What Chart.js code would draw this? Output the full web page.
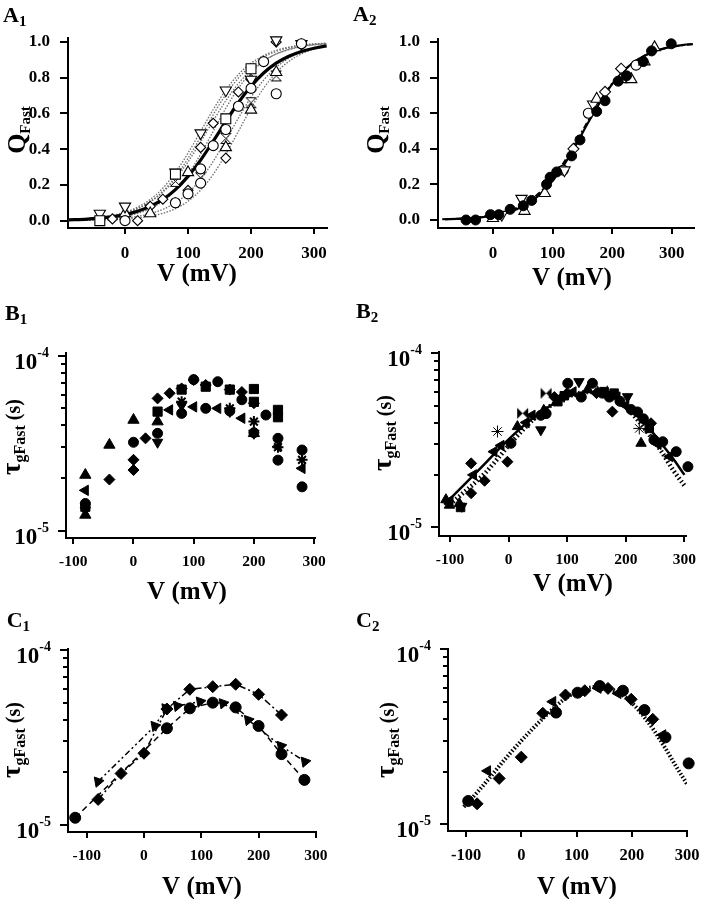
<!DOCTYPE html>
<html>
<head>
<meta charset="utf-8">
<title>QFast and tau gFast vs V</title>
<script src="https://cdn.jsdelivr.net/npm/chart.js@4.4.1/dist/chart.umd.min.js"></script>
<style>
  html, body { margin: 0; padding: 0; background: #fff; }
  body { position: relative; width: 702px; height: 899px; overflow: hidden; }
  canvas { position: absolute; }
</style>
</head>
<body>
<canvas id="cA1" width="351" height="300" style="left:0;top:0"></canvas>
<canvas id="cA2" width="351" height="300" style="left:351px;top:0"></canvas>
<canvas id="cB1" width="351" height="320" style="left:0;top:290px"></canvas>
<canvas id="cB2" width="351" height="320" style="left:351px;top:290px"></canvas>
<canvas id="cC1" width="351" height="299" style="left:0;top:600px"></canvas>
<canvas id="cC2" width="351" height="299" style="left:351px;top:600px"></canvas>
<script>
const FONT = '"Liberation Serif", "Times New Roman", serif';

// ---------- tick values ----------
const qTicks = [0, 0.2, 0.4, 0.6, 0.8, 1.0];
const vTicksA = [0, 100, 200, 300];
const vTicksBC = [-100, 0, 100, 200, 300];
const tauTicks = [1e-5, 2e-5, 3e-5, 4e-5, 5e-5, 6e-5, 7e-5, 8e-5, 9e-5, 1e-4];

// ---------- A1 ----------
const a1FitV = [-90, -60, -30, 0, 20, 40, 60, 80, 100, 120, 140, 160, 180, 200, 220, 240, 260, 280, 300, 320];
const a1Mean = [0.005, 0.009, 0.018, 0.034, 0.053, 0.080, 0.119, 0.174, 0.248, 0.339, 0.445, 0.555, 0.661, 0.752, 0.826, 0.881, 0.920, 0.947, 0.965, 0.978];
const a1Fit1 = [0.005, 0.011, 0.023, 0.047, 0.076, 0.119, 0.182, 0.269, 0.378, 0.500, 0.622, 0.731, 0.818, 0.881, 0.924, 0.953, 0.971, 0.982, 0.989, 0.993];
const a1Fit2 = [0.005, 0.011, 0.022, 0.043, 0.068, 0.105, 0.159, 0.233, 0.329, 0.441, 0.559, 0.671, 0.767, 0.841, 0.895, 0.932, 0.957, 0.973, 0.983, 0.989];
const a1Fit3 = [0.002, 0.005, 0.011, 0.024, 0.041, 0.067, 0.109, 0.171, 0.259, 0.372, 0.500, 0.629, 0.741, 0.829, 0.891, 0.933, 0.959, 0.976, 0.985, 0.991];
const a1Fit4 = [0.002, 0.003, 0.007, 0.015, 0.024, 0.039, 0.063, 0.100, 0.155, 0.231, 0.332, 0.450, 0.574, 0.690, 0.786, 0.858, 0.909, 0.943, 0.964, 0.978];
const a1Fit5 = [0.001, 0.002, 0.004, 0.009, 0.015, 0.025, 0.041, 0.067, 0.109, 0.171, 0.259, 0.372, 0.500, 0.629, 0.741, 0.829, 0.891, 0.933, 0.959, 0.976];
const a1Fit6 = [0.005, 0.010, 0.020, 0.042, 0.068, 0.107, 0.165, 0.245, 0.349, 0.469, 0.593, 0.706, 0.798, 0.867, 0.915, 0.947, 0.967, 0.980, 0.988, 0.992];

const a1CircV = [0, 80, 100, 120, 120, 140, 160, 180, 200, 220, 240, 280];
const a1CircQ = [0.00, 0.10, 0.15, 0.29, 0.21, 0.42, 0.51, 0.64, 0.74, 0.89, 0.71, 0.99];
const a1SqV = [-40, 80, 160, 200];
const a1SqQ = [0.00, 0.26, 0.57, 0.85];
const a1DownV = [-40, 0, 80, 120, 160, 200, 240, 280];
const a1DownQ = [0.04, 0.08, 0.27, 0.49, 0.73, 0.79, 1.01, 0.99];
const a1UpV = [0, 40, 100, 160, 200, 240];
const a1UpQ = [0.04, 0.04, 0.27, 0.41, 0.62, 0.83];
const a1DiaV = [-20, 20, 40, 60, 80, 100, 120, 140, 160, 180, 200, 240, 280];
const a1DiaQ = [0.01, 0.00, 0.08, 0.12, 0.10, 0.17, 0.41, 0.545, 0.35, 0.72, 0.79, 1.00, 0.99];
const a1HourV = [40, 80, 120, 160, 200, 240];
const a1HourQ = [0.06, 0.22, 0.24, 0.46, 0.66, 0.81];

// ---------- A2 ----------
const a2FitV = [-80, -60, -40, -20, 0, 20, 40, 60, 80, 100, 120, 140, 160, 180, 200, 220, 240, 260, 280, 300, 320, 335];
const a2Fit = [0.004, 0.006, 0.009, 0.015, 0.024, 0.038, 0.061, 0.096, 0.147, 0.220, 0.314, 0.427, 0.549, 0.664, 0.763, 0.840, 0.895, 0.933, 0.958, 0.974, 0.984, 0.989];
const a2DashV = [-85, -60, -40, -20, 0, 20, 40, 60, 80, 100, 120, 140, 160, 180, 200, 220, 240, 260, 280, 300, 320, 335];
const a2Dash = [0.004, 0.007, 0.011, 0.017, 0.027, 0.043, 0.068, 0.105, 0.159, 0.233, 0.329, 0.441, 0.559, 0.671, 0.767, 0.841, 0.895, 0.932, 0.957, 0.973, 0.983, 0.988];
const a2FillV = [-45, -29, -4, 10, 29, 51, 65, 90, 96, 107, 132, 146, 174, 188, 210, 224, 252, 266, 299];
const a2FillQ = [0.00, 0.00, 0.03, 0.03, 0.06, 0.08, 0.11, 0.20, 0.24, 0.27, 0.36, 0.45, 0.61, 0.67, 0.78, 0.81, 0.89, 0.95, 0.99];
const a2UpV = [0, 53, 87, 174, 215, 232, 254, 271];
const a2UpQ = [0.01, 0.05, 0.15, 0.68, 0.79, 0.79, 0.89, 0.97];
const a2DownV = [15, 48, 120, 168];
const a2DownQ = [0.03, 0.12, 0.28, 0.65];
const a2DiaV = [135, 188, 215];
const a2DiaQ = [0.40, 0.72, 0.85];
const a2CircV = [118, 160, 240];
const a2CircQ = [0.28, 0.60, 0.87];

// ---------- B1 ----------
const b1UpV = [-80, -80, -40, 0, 40, 200];
const b1UpT = [2.08e-5, 1.23e-5, 3.09e-5, 4.29e-5, 4.2e-5, 3.6e-5];
const b1DiaV = [-40, 0, 0, 20, 40, 60, 80, 100, 120, 160, 180, 200];
const b1DiaT = [1.96e-5, 2.22e-5, 2.54e-5, 3.37e-5, 5.7e-5, 6.1e-5, 6.5e-5, 7.26e-5, 6.8e-5, 6.4e-5, 6.2e-5, 5.35e-5];
const b1CircV = [-80, 0, 40, 80, 100, 120, 140, 160, 180, 200, 220, 240, 240, 280, 280];
const b1CircT = [1.43e-5, 3.2e-5, 3.6e-5, 4.68e-5, 7.3e-5, 5.0e-5, 7.1e-5, 4.83e-5, 5.6e-5, 3.63e-5, 4.58e-5, 2.53e-5, 3.37e-5, 2.89e-5, 1.78e-5];
const b1SqV = [-80, 40, 80, 120, 160, 200, 200, 240, 240];
const b1SqT = [1.37e-5, 4.79e-5, 6.4e-5, 6.65e-5, 6.4e-5, 6.45e-5, 5.45e-5, 4.9e-5, 4.45e-5];
const b1LeftV = [-80, 60, 100, 140, 180, 240, 280];
const b1LeftT = [1.7e-5, 4.9e-5, 5.1e-5, 5.0e-5, 4.39e-5, 3.02e-5, 2.27e-5];
const b1DownV = [-80, 40, 80, 160, 200];
const b1DownT = [1.31e-5, 3.2e-5, 5.2e-5, 4.8e-5, 3.6e-5];
const b1StarV = [80, 160, 200, 240, 280];
const b1StarT = [5.46e-5, 5.0e-5, 4.2e-5, 3.0e-5, 2.54e-5];

// ---------- B2 ----------
const b2SolidV = [-110, -80, -40, 0, 40, 80, 100, 120, 140, 160, 180, 200, 220, 240, 260, 280, 300];
const b2SolidT = [1.35e-5, 1.7e-5, 2.33e-5, 3.2e-5, 4.2e-5, 5.2e-5, 5.6e-5, 5.9e-5, 6.0e-5, 5.9e-5, 5.55e-5, 5.0e-5, 4.35e-5, 3.7e-5, 3.05e-5, 2.5e-5, 2.0e-5];
const b2DotV = [-100, -80, -60, -40, -20, 0, 20, 40, 60, 80, 100, 120, 140, 160, 180, 200, 220, 240, 260, 280, 302];
const b2DotT = [1.35e-5, 1.55e-5, 1.77e-5, 2.05e-5, 2.45e-5, 2.95e-5, 3.5e-5, 4.1e-5, 4.7e-5, 5.2e-5, 5.6e-5, 5.9e-5, 6.0e-5, 5.9e-5, 5.5e-5, 4.9e-5, 4.15e-5, 3.4e-5, 2.75e-5, 2.15e-5, 1.7e-5];
const b2CircV = [4, 55, 64, 101, 124, 143, 160, 172, 190, 209, 220, 230, 248, 263, 286, 306];
const b2CircT = [3.04e-5, 4.4e-5, 4.5e-5, 6.72e-5, 5.6e-5, 6.72e-5, 5.9e-5, 5.6e-5, 5.3e-5, 4.75e-5, 4.6e-5, 4.2e-5, 3.18e-5, 3.1e-5, 2.72e-5, 2.23e-5];
const b2DiaV = [-64, -64, -41, -2, 78, 100, 150, 177, 243];
const b2DiaT = [2.33e-5, 1.57e-5, 1.85e-5, 2.38e-5, 5.6e-5, 5.9e-5, 5.9e-5, 4.62e-5, 3.96e-5];
const b2UpV = [-107, -101, -84, 15, 60, 135, 226];
const b2UpT = [1.44e-5, 1.34e-5, 1.37e-5, 3.79e-5, 4.7e-5, 6.2e-5, 3.04e-5];
const b2DownV = [-80, 55, 120, 170, 203];
const b2DownT = [1.32e-5, 3.63e-5, 6.87e-5, 5.8e-5, 5.63e-5];
const b2LeftV = [-100, -60, -25, -13, 30, 40, 90, 110, 185, 200, 255, 275];
const b2LeftT = [1.42e-5, 2.0e-5, 2.72e-5, 2.95e-5, 4.0e-5, 4.4e-5, 5.6e-5, 6.0e-5, 5.6e-5, 5.0e-5, 3.0e-5, 2.55e-5];
const b2SqV = [-82, 84, 95, 163, 180, 240];
const b2SqT = [1.3e-5, 5.27e-5, 5.7e-5, 6.02e-5, 5.9e-5, 3.7e-5];
const b2BowV = [24, 64, 160];
const b2BowT = [4.52e-5, 5.89e-5, 6.1e-5];
const b2StarV = [-19, 223];
const b2StarT = [3.55e-5, 3.7e-5];

// ---------- C1 ----------
const c1CircV = [-120, 40, 80, 120, 160, 200, 240, 280];
const c1CircT = [1.1e-5, 3.57e-5, 4.64e-5, 5.0e-5, 4.7e-5, 3.68e-5, 2.54e-5, 1.81e-5];
const c1DiaV = [-80, -40, 0, 40, 80, 120, 160, 200, 240];
const c1DiaT = [1.4e-5, 1.97e-5, 2.57e-5, 4.6e-5, 5.96e-5, 6.17e-5, 6.37e-5, 5.58e-5, 4.25e-5];
const c1TriV = [-80, 19, 38, 58, 98, 138, 182, 239, 281];
const c1TriT = [1.77e-5, 3.68e-5, 4.64e-5, 4.79e-5, 5.07e-5, 4.96e-5, 3.98e-5, 2.83e-5, 2.3e-5];

// ---------- C2 ----------
const c2FitV = [-104, -80, -60, -40, -20, 0, 20, 40, 60, 80, 100, 120, 140, 160, 180, 200, 220, 240, 260, 280, 300];
const c2FitT = [1.26e-5, 1.52e-5, 1.8e-5, 2.15e-5, 2.55e-5, 3.0e-5, 3.5e-5, 4.05e-5, 4.65e-5, 5.25e-5, 5.7e-5, 6.0e-5, 6.1e-5, 5.95e-5, 5.55e-5, 4.95e-5, 4.2e-5, 3.45e-5, 2.75e-5, 2.15e-5, 1.7e-5];
const c2CircV = [-96, 63, 102, 142, 184, 223, 261, 303];
const c2CircT = [1.36e-5, 4.35e-5, 5.65e-5, 6.17e-5, 5.8e-5, 4.5e-5, 3.14e-5, 2.23e-5];
const c2DiaV = [-80, -40, 0, 39, 80, 115, 157, 199, 238];
const c2DiaT = [1.31e-5, 1.83e-5, 2.42e-5, 4.31e-5, 5.48e-5, 5.8e-5, 5.98e-5, 5.18e-5, 3.98e-5];
const c2TriV = [-61, 57, 139, 175, 256];
const c2TriT = [2.02e-5, 5.02e-5, 6.0e-5, 5.6e-5, 3.24e-5];

// ---------- helpers ----------
const pts = (xs, ys) => xs.map((x, i) => ({ x: x, y: ys[i] }));

function makeMarker(size, draw) {
  const c = document.createElement('canvas');
  c.width = size; c.height = size;
  draw(c.getContext('2d'), size);
  return c;
}
const hourglass = makeMarker(13, (g, s) => {
  g.beginPath();
  g.moveTo(1.5, 1.5); g.lineTo(s - 1.5, 1.5); g.lineTo(1.5, s - 1.5); g.lineTo(s - 1.5, s - 1.5);
  g.closePath();
  g.fillStyle = '#fff'; g.fill();
  g.strokeStyle = '#000'; g.lineWidth = 1; g.stroke();
});
const bowtie = makeMarker(13, (g, s) => {
  g.beginPath();
  g.moveTo(1, 1); g.lineTo(1, s - 1); g.lineTo(s - 1, 1); g.lineTo(s - 1, s - 1);
  g.closePath();
  g.fillStyle = '#000'; g.fill();
});

function marks(xs, ys, style, o) {
  return Object.assign({
    data: pts(xs, ys), showLine: false, pointStyle: style, pointRadius: 5,
    pointBackgroundColor: '#000', pointBorderColor: '#000', pointBorderWidth: 1,
    clip: false, order: 1
  }, o || {});
}
function openMarks(xs, ys, style, o) {
  return marks(xs, ys, style, Object.assign({ pointBackgroundColor: '#fff', pointBorderWidth: 1.1 }, o || {}));
}
function curve(xs, ys, o) {
  return Object.assign({
    data: pts(xs, ys), showLine: true, pointRadius: 0, borderColor: '#000', borderWidth: 2,
    cubicInterpolationMode: 'monotone', fill: false, order: 5
  }, o || {});
}
const grayFit = ys => curve(a1FitV, ys, { borderColor: '#6e6e6e', borderWidth: 1.3, borderDash: [1.5, 1.5], order: 6 });

function richText(ctx, x, y, parts, align, rot) {
  ctx.save();
  ctx.translate(x, y);
  if (rot) ctx.rotate(rot);
  let w = 0;
  parts.forEach(p => { ctx.font = 'bold ' + p.s + 'px ' + FONT; p.w = ctx.measureText(p.t).width; w += p.w; });
  let cx = align === 'center' ? -w / 2 : 0;
  ctx.textAlign = 'left';
  ctx.textBaseline = 'alphabetic';
  parts.forEach(p => { ctx.font = 'bold ' + p.s + 'px ' + FONT; ctx.fillText(p.t, cx, p.dy || 0); cx += p.w; });
  ctx.restore();
}

const qTitle = [{ t: 'Q', s: 26 }, { t: 'Fast', s: 15, dy: 5 }];
const tauTitle = [{ t: 'τ', s: 27 }, { t: 'gFast', s: 16, dy: 5 }, { t: ' (s)', s: 20 }];
const vTitle = [{ t: 'V (mV)', s: 25 }];

// ticks, labels, titles
const axisDeco = {
  id: 'axisDeco',
  afterDraw(chart, args, o) {
    const ctx = chart.ctx, xs = chart.scales.x, ys = chart.scales.y;
    ctx.save();
    ctx.strokeStyle = '#000';
    ctx.fillStyle = '#000';
    ctx.lineWidth = 2;
    ctx.beginPath();
    xs.ticks.forEach(t => {
      const p = Math.round(xs.getPixelForValue(t.value));
      ctx.moveTo(p, xs.top); ctx.lineTo(p, xs.top + 6);
    });
    ys.ticks.forEach(t => {
      const p = Math.round(ys.getPixelForValue(t.value));
      const lg = Math.log10(t.value);
      const major = ys.type !== 'logarithmic' || Math.abs(lg - Math.round(lg)) < 1e-6;
      ctx.moveTo(ys.right - (major ? 8 : 5), p); ctx.lineTo(ys.right, p);
    });
    ctx.stroke();

    if (ys.type === 'logarithmic') {
      ys.ticks.forEach(t => {
        const lg = Math.log10(t.value), e = Math.round(lg);
        if (Math.abs(lg - e) > 1e-6) return;
        const p = ys.getPixelForValue(t.value);
        const right = ys.right - 17;
        ctx.textAlign = 'right';
        ctx.textBaseline = 'alphabetic';
        ctx.font = 'bold 14px ' + FONT;
        const ew = ctx.measureText(String(e)).width;
        ctx.fillText(String(e), right, p + 1);
        ctx.font = 'bold 23px ' + FONT;
        ctx.fillText('10', right - ew, p + 13);
      });
    }
    richText(ctx, o.label[0], o.label[1], [{ t: o.label[2], s: 22 }, { t: o.label[3], s: 15, dy: 4 }], 'left');
    richText(ctx, o.xTitle[0], o.xTitle[1], vTitle, 'center');
    richText(ctx, o.yTitle[0], o.yTitle[1], o.yTitle[2], 'center', -Math.PI / 2);
    ctx.restore();
  }
};

function buildChart(id, p) {
  const cv = document.getElementById(id);
  const W = cv.width, H = cv.height;
  const isLog = p.yType === 'logarithmic';
  return new Chart(cv, {
    type: 'scatter',
    data: { datasets: p.datasets },
    options: {
      responsive: false,
      animation: false,
      devicePixelRatio: 1,
      events: [],
      layout: { padding: { left: 0, top: p.area[1], right: W - p.area[2], bottom: 0 } },
      plugins: { legend: { display: false }, tooltip: { enabled: false }, axisDeco: p.deco },
      scales: {
        x: {
          type: 'linear', min: p.x[0], max: p.x[1],
          afterBuildTicks: s => { s.ticks = p.xTicks.map(v => ({ value: v })); },
          afterFit: s => { s.height = H - p.area[3]; s.paddingLeft = 0; s.paddingRight = 0; },
          grid: { display: false },
          border: { display: true, color: '#000', width: 2 },
          ticks: {
            color: '#000', padding: 7, autoSkip: false, maxRotation: 0,
            font: { family: FONT, weight: 'bold', size: p.tickSize },
            callback: v => String(v)
          }
        },
        y: {
          type: p.yType, min: p.y[0], max: p.y[1],
          afterBuildTicks: s => { s.ticks = p.yTicks.map(v => ({ value: v })); },
          afterFit: s => { s.width = p.area[0]; s.paddingTop = 0; s.paddingBottom = 0; },
          grid: { display: false },
          border: { display: true, color: '#000', width: 2 },
          ticks: {
            color: '#000', padding: 10, autoSkip: false,
            font: { family: FONT, weight: 'bold', size: p.tickSize },
            callback: v => isLog ? '' : Number(v).toFixed(1)
          }
        }
      }
    },
    plugins: [axisDeco]
  });
}

// ---------- panels ----------
buildChart('cA1', {
  area: [68, 38, 327, 228], x: [-90.5, 320.6], y: [-0.041, 1.022], yType: 'linear',
  xTicks: vTicksA, yTicks: qTicks, tickSize: 17,
  deco: { label: [3, 21.7, 'A', '1'], xTitle: [197, 281], yTitle: [25, 130, qTitle] },
  datasets: [
    openMarks(a1CircV, a1CircQ, 'circle', { pointRadius: 5 }),
    openMarks(a1SqV, a1SqQ, 'rect', { pointRadius: 7 }),
    openMarks(a1DownV, a1DownQ, 'triangle', { pointRadius: 6.5, pointRotation: 180 }),
    openMarks(a1UpV, a1UpQ, 'triangle', { pointRadius: 6.5 }),
    openMarks(a1DiaV, a1DiaQ, 'rectRot', { pointRadius: 5 }),
    openMarks(a1HourV, a1HourQ, hourglass),
    curve(a1FitV, a1Mean, { borderWidth: 3.2, order: 4 }),
    grayFit(a1Fit1), grayFit(a1Fit2), grayFit(a1Fit3), grayFit(a1Fit4), grayFit(a1Fit5), grayFit(a1Fit6)
  ]
});

buildChart('cA2', {
  area: [87, 39, 345, 228], x: [-92, 337.8], y: [-0.045, 1.017], yType: 'linear',
  xTicks: vTicksA, yTicks: qTicks, tickSize: 17,
  deco: { label: [2, 20.7, 'A', '2'], xTitle: [221, 285], yTitle: [33, 130, qTitle] },
  datasets: [
    marks(a2FillV, a2FillQ, 'circle', { pointRadius: 5 }),
    openMarks(a2UpV, a2UpQ, 'triangle', { pointRadius: 6.5 }),
    openMarks(a2DownV, a2DownQ, 'triangle', { pointRadius: 6.5, pointRotation: 180 }),
    openMarks(a2DiaV, a2DiaQ, 'rectRot', { pointRadius: 5.5 }),
    openMarks(a2CircV, a2CircQ, 'circle', { pointRadius: 5 }),
    curve(a2FitV, a2Fit, { borderWidth: 2.2 }),
    curve(a2DashV, a2Dash, { borderWidth: 2, borderDash: [6, 3, 2, 3] })
  ]
});

buildChart('cB1', {
  area: [66, 63, 315, 248], x: [-112.1, 301.5], y: [9.08e-6, 1.036e-4], yType: 'logarithmic',
  xTicks: vTicksBC, yTicks: tauTicks, tickSize: 15.5,
  deco: { label: [5, 30, 'B', '1'], xTitle: [187, 309], yTitle: [20, 147, tauTitle] },
  datasets: [
    marks(b1UpV, b1UpT, 'triangle', { pointRadius: 6.5 }),
    marks(b1DiaV, b1DiaT, 'rectRot', { pointRadius: 5.5 }),
    marks(b1CircV, b1CircT, 'circle', { pointRadius: 5 }),
    marks(b1SqV, b1SqT, 'rect', { pointRadius: 6.5 }),
    marks(b1LeftV, b1LeftT, 'triangle', { pointRadius: 6, pointRotation: -90 }),
    marks(b1DownV, b1DownT, 'triangle', { pointRadius: 6, pointRotation: 180 }),
    marks(b1StarV, b1StarT, 'star', { pointRadius: 5.5, pointBorderWidth: 2 })
  ]
});

buildChart('cB2', {
  area: [88, 62, 335, 246], x: [-118.8, 302.7], y: [8.91e-6, 1.017e-4], yType: 'logarithmic',
  xTicks: vTicksBC, yTicks: tauTicks, tickSize: 15.5,
  deco: { label: [5, 28, 'B', '2'], xTitle: [222, 301], yTitle: [40, 143, tauTitle] },
  datasets: [
    marks(b2CircV, b2CircT, 'circle', { pointRadius: 5 }),
    marks(b2DiaV, b2DiaT, 'rectRot', { pointRadius: 5.5 }),
    marks(b2UpV, b2UpT, 'triangle', { pointRadius: 6 }),
    marks(b2DownV, b2DownT, 'triangle', { pointRadius: 6, pointRotation: 180 }),
    marks(b2LeftV, b2LeftT, 'triangle', { pointRadius: 6, pointRotation: -90 }),
    marks(b2SqV, b2SqT, 'rect', { pointRadius: 6 }),
    marks(b2BowV, b2BowT, bowtie),
    marks(b2StarV, b2StarT, 'star', { pointRadius: 6, pointBorderWidth: 1 }),
    curve(b2SolidV, b2SolidT, { borderWidth: 2.5 }),
    curve(b2DotV, b2DotT, { borderWidth: 4.5, borderDash: [1.5, 2.5] })
  ]
});

buildChart('cC1', {
  area: [68, 49, 316, 232], x: [-132.6, 300.2], y: [9.12e-6, 1.013e-4], yType: 'logarithmic',
  xTicks: vTicksBC, yTicks: tauTicks, tickSize: 15.5,
  deco: { label: [6.7, 26.7, 'C', '1'], xTitle: [202, 294], yTitle: [20, 140, tauTitle] },
  datasets: [
    marks(c1CircV, c1CircT, 'circle', { pointRadius: 5.5, showLine: true, borderColor: '#000', borderWidth: 1.5, borderDash: [6, 4], tension: 0 }),
    marks(c1DiaV, c1DiaT, 'rectRot', { pointRadius: 6, showLine: true, borderColor: '#000', borderWidth: 1.5, borderDash: [7, 3, 2, 3], tension: 0 }),
    marks(c1TriV, c1TriT, 'triangle', { pointRadius: 6, pointRotation: 200, showLine: true, borderColor: '#000', borderWidth: 1.5, borderDash: [6, 3, 2, 3, 2, 3], tension: 0 })
  ]
});

buildChart('cC2', {
  area: [97, 49, 336, 231], x: [-132.6, 300], y: [9.16e-6, 1.004e-4], yType: 'logarithmic',
  xTicks: vTicksBC, yTicks: tauTicks, tickSize: 16.5,
  deco: { label: [5, 26.7, 'C', '2'], xTitle: [226, 294], yTitle: [43, 140, tauTitle] },
  datasets: [
    marks(c2CircV, c2CircT, 'circle', { pointRadius: 5.5 }),
    marks(c2DiaV, c2DiaT, 'rectRot', { pointRadius: 6 }),
    marks(c2TriV, c2TriT, 'triangle', { pointRadius: 6, pointRotation: -90 }),
    curve(c2FitV, c2FitT, { borderWidth: 4, borderDash: [1.5, 2] })
  ]
});
</script>
</body>
</html>
